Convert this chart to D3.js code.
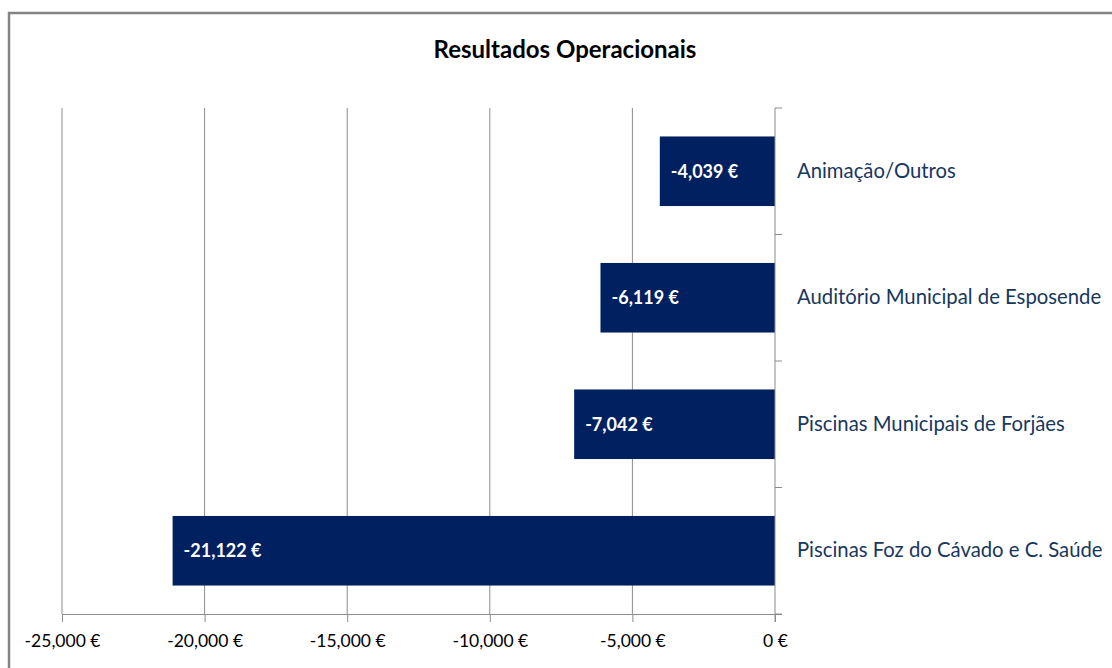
<!DOCTYPE html>
<html>
<head>
  <script src="https://d3js.org/d3.v7.min.js"></script>
  <style>
    body { margin: 0; background: #fff; }
    text { font-family: Lato, "Open Sans", sans-serif; }
  </style>
</head>
<body>
<div id="vis"></div>
<script>
// chart data
const categories = ["Animação/Outros", "Auditório Municipal de Esposende", "Piscinas Municipais de Forjães", "Piscinas Foz do Cávado e C. Saúde"];
const values = [-4039, -6119, -7042, -21122];
const xTicks = [-25000, -20000, -15000, -10000, -5000, 0];

const width = 1112;
const height = 668;
const margin = { top: 108, right: 337, bottom: 54, left: 62 };

const svg = d3.select('#vis')
  .append('svg')
  .attr('width', width)
  .attr('height', height);

// outer chart frame
svg.append('rect')
  .attr('x', 9).attr('y', 13)
  .attr('width', 1200).attr('height', 800)
  .attr('fill', 'none')
  .attr('stroke', '#848484')
  .attr('stroke-width', 2.5);

svg.append('text')
  .attr('x', 565)
  .attr('y', 58)
  .attr('text-anchor', 'middle')
  .style('font-size', '24px')
  .style('font-weight', 'bold')
  .text('Resultados Operacionais');

const x = d3.scaleLinear()
  .domain([-25000, 0])
  .range([margin.left, width - margin.right]);

const y = d3.scaleBand()
  .domain(categories)
  .range([margin.top, height - margin.bottom])
  .paddingInner(0.45)
  .paddingOuter(0.225);

// hyphen instead of unicode minus, like the original
const fmt = v => d3.format(',')(v).replace('\u2212', '-') + ' €';

// vertical gridlines
svg.append('g')
  .selectAll('line')
  .data(xTicks.filter(d => d !== 0))
  .enter()
  .append('line')
  .attr('x1', d => x(d)).attr('x2', d => x(d))
  .attr('y1', margin.top).attr('y2', height - margin.bottom)
  .attr('stroke', '#8c8c8c')
  .attr('stroke-width', 1);

// bars
svg.append('g')
  .selectAll('rect')
  .data(values)
  .enter()
  .append('rect')
  .attr('x', d => x(d))
  .attr('width', d => x(0) - x(d))
  .attr('y', (d, i) => y(categories[i]))
  .attr('height', y.bandwidth())
  .attr('fill', '#002060');

// value labels inside bars
svg.append('g')
  .selectAll('text')
  .data(values)
  .enter()
  .append('text')
  .attr('x', d => x(d) + 11)
  .attr('y', (d, i) => y(categories[i]) + y.bandwidth() / 2)
  .attr('dy', '0.35em')
  .attr('fill', '#fff')
  .style('font-size', '18px')
  .style('font-weight', 'bold')
  .text(d => fmt(d));

// bottom axis
const xAxis = svg.append('g')
  .attr('transform', `translate(0,${height - margin.bottom})`)
  .call(d3.axisBottom(x).tickValues(xTicks).tickSize(8).tickPadding(13)
    .tickFormat(fmt));
xAxis.select('.domain').attr('stroke', '#8c8c8c').attr('d', `M${margin.left},0.5H${x(0) + 7}`);
xAxis.selectAll('.tick line').attr('stroke', '#8c8c8c');
xAxis.selectAll('text').style('font-size', '17.5px').attr('fill', '#000');

// category axis at zero, labels on right
const yAxis = svg.append('g')
  .attr('transform', `translate(${x(0)},0)`)
  .call(d3.axisRight(y).tickSize(0).tickPadding(22));
yAxis.select('.domain').remove();
yAxis.selectAll('text').style('font-size', '20.3px').attr('fill', '#17375e');

// category separators
const bounds = categories.map(c => y(c) - y.step() * y.paddingInner() / 2);
bounds.push(height - margin.bottom);
svg.append('g')
  .selectAll('line')
  .data(bounds)
  .enter()
  .append('line')
  .attr('x1', x(0)).attr('x2', x(0) + 7)
  .attr('y1', d => d).attr('y2', d => d)
  .attr('stroke', '#8c8c8c');
svg.append('line')
  .attr('x1', x(0)).attr('x2', x(0))
  .attr('y1', margin.top).attr('y2', height - margin.bottom + 8)
  .attr('stroke', '#8c8c8c');
</script>
</body>
</html>
